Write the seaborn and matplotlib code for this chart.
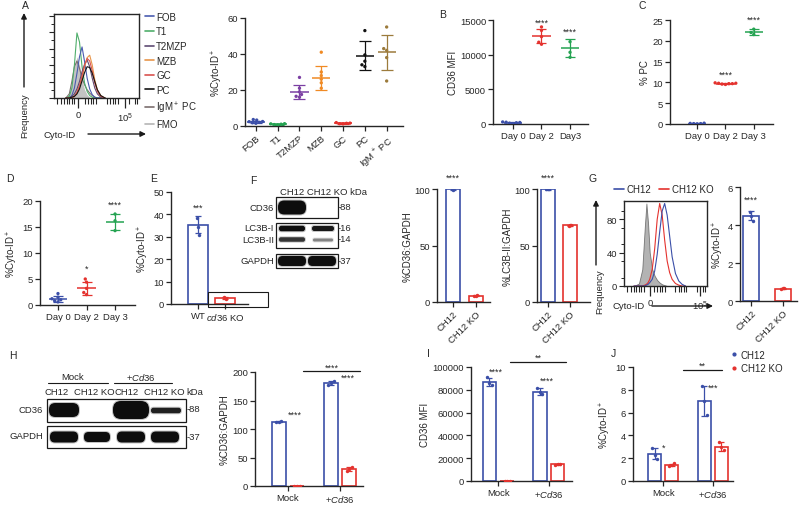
import numpy as np
import pandas as pd
import matplotlib.pyplot as plt
import seaborn as sns
from matplotlib.patches import Rectangle, FancyBboxPatch
from matplotlib.lines import Line2D

sns.set_theme(style="ticks")
plt.rcParams["font.family"] = ["Liberation Sans", "DejaVu Sans"]
plt.rcParams["mathtext.fontset"] = "custom"
plt.rcParams["mathtext.rm"] = "Liberation Sans"
plt.rcParams["mathtext.it"] = "Liberation Sans:italic"
plt.rcParams["axes.facecolor"] = "none"

BLUE = "#3b4fa8"
RED = "#e4322e"
GREEN = "#25a352"

# ---------------- data ----------------
# A: flow histograms, x in axis units (0-100), y in % of axis height
hist_x_a = [14, 18, 21, 24, 27, 30, 33, 36, 39, 42, 45, 48, 51, 55, 60]
hist_fmo_a = [0, 4, 18, 38, 50, 40, 22, 10, 4, 1, 0, 0, 0, 0, 0]
hist_lines_a = {
    "IgM$^+$ PC": [0, 5, 20, 38, 45, 36, 24, 16, 10, 6, 3, 1, 0, 0, 0],
    "T1": [0, 2, 12, 40, 79, 68, 38, 18, 8, 3, 1, 0, 0, 0, 0],
    "FOB": [0, 0, 3, 12, 30, 50, 62, 44, 24, 11, 4, 1, 0, 0, 0],
    "T2MZP": [0, 0, 2, 5, 11, 20, 32, 41, 46, 38, 24, 12, 5, 1, 0],
    "MZB": [0, 0, 0, 2, 6, 13, 24, 38, 49, 52, 40, 22, 10, 3, 0],
    "GC": [0, 0, 0, 2, 7, 15, 27, 40, 48, 45, 33, 18, 8, 2, 0],
    "PC": [0, 0, 1, 2, 5, 11, 21, 31, 38, 37, 30, 20, 10, 3, 0],
}
hist_colors_a = {"FOB": "#4a5cb0", "T1": "#4fae6b", "T2MZP": "#5f4b73",
                 "MZB": "#e8964c", "GC": "#d9534f", "PC": "#141414",
                 "IgM$^+$ PC": "#7c6e6e", "FMO": "#b5b5b5"}
legend_a = ["FOB", "T1", "T2MZP", "MZB", "GC", "PC", "IgM$^+$ PC", "FMO"]

# A: %Cyto-ID+ per subset
cats_a = ["FOB", "T1", "T2MZP", "MZB", "GC", "PC", "IgM+ PC"]
labels_a = ["FOB", "T1", "T2MZP", "MZB", "GC", "PC", "IgM$^+$ PC"]
pts_a = [[1.5, 2.5, 3.3, 1.8, 2.0, 2.4, 3.6], [0.6, 1.0, 1.3, 0.8, 1.2],
         [27, 21, 19, 17.5, 16.5, 16], [41, 28, 30, 24, 21, 26],
         [1.2, 1.6, 1.9, 1.3, 1.5], [53, 39.5, 36, 33, 34],
         [55, 43, 42, 38, 25]]
mean_a = [2.2, 1.0, 19, 26.7, 1.5, 39, 41]
sd_a = [0.8, 0.3, 3.8, 6.5, 0.3, 8, 9.7]
col_a = [BLUE, GREEN, "#7b3fa3", "#f08a24", RED, "#111111", "#9c7b3c"]

# B: CD36 MFI
days_b = ["Day 0", "Day 2", "Day3"]
pts_b = [[60, 120, 180, 220, 260, 300], [14000, 13500, 12600, 11800, 11500],
         [11870, 10340, 9620]]
mean_b = [190, 12650, 10960]
sd_b = [90, 1000, 1230]
stars_b = [None, (14100, "****"), (12700, "****")]

# C: % PC
days_c = ["Day 0", "Day 2", "Day 3"]
pts_c = [[0.05, 0.1, 0.15, 0.1, 0.2], [9.5, 9.6, 9.7, 9.8, 9.8, 9.9, 9.7],
         [22.8, 22.0, 21.5]]
mean_c = [0.12, 9.72, 22.1]
sd_c = [0.05, 0.15, 0.7]
stars_c = [None, (10.8, "****"), (24.0, "****")]

# D: %Cyto-ID+ over days
days_d = ["Day 0", "Day 2", "Day 3"]
pts_d = [[2.2, 1.5, 1.0, 0.8, 0.6, 1.2], [5.0, 4.4, 3.2, 2.4, 2.0],
         [17.5, 16.2, 14.3]]
mean_d = [1.2, 3.2, 16.0]
sd_d = [0.6, 1.2, 1.5]
stars_d = [None, (6.3, "*"), (18.6, "****")]

# E: WT vs cd36 KO
cats_e = ["WT", "$\\mathit{cd36}$ KO"]
pts_e = [[38.5, 34.5, 31.0], [3.3, 2.6, 2.4]]
mean_e = [35.3, 2.8]
sd_e = [3.8, 0.5]

# F: blot quantification
cells = ["CH12", "CH12 KO"]
pts_f1 = [[100, 99.5, 100.5], [5.0, 5.6, 6.0]]
mean_f1 = [100, 5.5]
sd_f1 = [0.8, 0.6]
pts_f2 = [[100, 99.6, 100.3], [67.5, 68.0, 68.4]]
mean_f2 = [100, 68]
sd_f2 = [0.5, 0.5]

# G: histogram (x in axis units 0-100) and %Cyto-ID+
hist_x_g = [12, 18, 22, 25, 27, 29, 31, 34, 37, 40, 43, 46, 49, 52, 55, 58, 62, 66, 70, 74]
hist_fmo_g = [0, 3, 20, 70, 99, 75, 40, 20, 12, 7, 4, 2, 1, 0, 0, 0, 0, 0, 0, 0]
hist_ko_g = [0, 0, 0, 1, 2, 4, 8, 20, 45, 80, 99, 85, 55, 30, 16, 8, 3, 1, 0, 0]
hist_wt_g = [0, 0, 0, 0, 1, 2, 4, 8, 18, 38, 65, 90, 99, 85, 60, 35, 15, 6, 2, 0]
pts_g = [[4.7, 4.45, 4.2], [0.62, 0.66, 0.68]]
mean_g = [4.5, 0.65]
sd_g = [0.25, 0.04]

# H-J: Mock vs +Cd36 (order: Mock CH12, Mock KO, +Cd36 CH12, +Cd36 KO)
groups = ["Mock", "+Cd36"]
group_labels = ["Mock", "+$\\mathit{Cd36}$"]
mean_h = [113, 0.5, 181, 30]
sd_h = [1.0, 0.3, 3.0, 3.0]
pts_h = [[112, 113, 114], [0.3, 0.5, 0.8], [178, 181, 184], [27, 30, 33]]
mean_i = [87000, 150, 78500, 14500]
sd_i = [3500, 80, 2800, 500]
pts_i = [[91000, 86000, 84500], [100, 150, 200], [81500, 78000, 76500], [14000, 14500, 15000]]
mean_j = [2.4, 1.4, 7.0, 3.0]
sd_j = [0.5, 0.12, 1.3, 0.4]
pts_j = [[2.9, 2.3, 1.95], [1.3, 1.4, 1.55], [8.3, 7.0, 5.8], [3.4, 3.0, 2.7]]

# ---------------- layout helpers ----------------
W, H = 800, 510
fig = plt.figure(figsize=(8, 5.1), dpi=100)


def px_ax(x0, y0, x1, y1):
    return fig.add_axes([x0 / W, 1 - y1 / H, (x1 - x0) / W, (y1 - y0) / H])


def style(ax, ylim, yticks, ylabel, xlim, xlabels, rot=0):
    ax.set_ylim(*ylim)
    ax.set_yticks(yticks)
    ax.set_xlim(*xlim)
    ax.set_xticks(range(len(xlabels)))
    if rot:
        ax.set_xticklabels(xlabels, rotation=rot, ha="right", rotation_mode="anchor")
    else:
        ax.set_xticklabels(xlabels)
    sns.despine(ax=ax)
    for s in ax.spines.values():
        s.set_linewidth(1)
    ax.tick_params(labelsize=6.8, length=3.5, width=0.9, pad=1.5)
    ax.set_xlabel("")
    ax.set_ylabel(ylabel, fontsize=7, labelpad=1.5)


def dot_panel(ax, cats, pts, means, sds, colors, half=0.32, cap=3.5):
    df = pd.DataFrame({"cat": np.repeat(cats, [len(p) for p in pts]),
                       "val": np.concatenate(pts)})
    sns.swarmplot(data=df, x="cat", y="val", hue="cat", order=cats, hue_order=cats,
                  palette=colors, size=2.4, ax=ax, legend=False, zorder=3)
    for i, (m, s, c) in enumerate(zip(means, sds, colors)):
        ax.errorbar(i, m, yerr=s, color=c, capsize=cap, lw=0.9, capthick=0.9)
        ax.hlines(m, i - half, i + half, color=c, lw=1.1)


def bar_points(ax, pts, means, sds, colors):
    centers = sorted(p.get_x() + p.get_width() / 2 for p in ax.patches)
    for cx, p, m, s, c in zip(centers, pts, means, sds, colors):
        ax.errorbar(cx, m, yerr=s, color=c, capsize=2.2, lw=0.9, capthick=0.9, zorder=4)
        sns.scatterplot(x=[cx - 0.05, cx, cx + 0.05], y=p, color=c, s=6,
                        linewidth=0, ax=ax, legend=False, zorder=5)
    return centers


def single_bars(ax, names, pts, means, sds, width):
    sns.barplot(x=names, y=means, hue=names, palette=[BLUE, RED], fill=False,
                width=width, errorbar=None, linewidth=1.2, ax=ax, legend=False)
    return bar_points(ax, pts, means, sds, [BLUE, RED])


def grouped_bars(ax, pts, means, sds):
    df = pd.DataFrame({"group": np.repeat(groups, 2), "cell": cells * 2, "val": means})
    sns.barplot(data=df, x="group", y="val", hue="cell", hue_order=cells,
                palette=[BLUE, RED], fill=False, width=0.7, gap=0.25,
                errorbar=None, linewidth=1.2, ax=ax, legend=False)
    return bar_points(ax, pts, means, sds, [BLUE, RED, BLUE, RED])


def stars(ax, x, y, s):
    ax.text(x, y, s, ha="center", va="bottom", fontsize=6.5, clip_on=False)


def bracket(ax, x0, x1, y, s):
    ax.plot([x0, x1], [y, y], color="k", lw=0.9, clip_on=False)
    ax.text((x0 + x1) / 2, y, s, ha="center", va="bottom", fontsize=6.5)


def flow_box(ax, lab_pos):
    ax.set_xlim(0, 100)
    ax.set_ylim(0, 102)
    for s in ax.spines.values():
        s.set_visible(True)
        s.set_linewidth(1)
    ax.set_xticks(lab_pos)
    ax.set_xticklabels(["0", "10$^5$"])
    ax.set_xticks([4, 8, 12, 15, 18, 21, 24, 36, 40, 43, 46, 49, 62, 66, 69, 72, 75,
                   88, 95, 98], minor=True)
    ax.tick_params(axis="x", which="major", length=7, width=0.9, labelsize=6.8, pad=2)
    ax.tick_params(axis="x", which="minor", length=4, width=0.8)
    ax.set_yticks(range(0, 101, 20))
    ax.set_yticks(range(10, 100, 20), minor=True)
    ax.tick_params(axis="y", which="major", length=3.5, width=0.8, labelsize=6.8, pad=1.5)
    ax.tick_params(axis="y", which="minor", length=2, width=0.7)
    ax.set_xlabel("")
    ax.set_ylabel("")


# ---------------- A ----------------
axAh = px_ax(54, 15, 139, 99)
axAh.fill_between(hist_x_a, hist_fmo_a, color=hist_colors_a["FMO"], alpha=0.8, lw=0)
for name, ys in hist_lines_a.items():
    sns.lineplot(x=hist_x_a, y=ys, color=hist_colors_a[name], lw=0.8, ax=axAh)
flow_box(axAh, [28.2, 83.5])
axAh.set_yticklabels([])
handles = [Line2D([0], [0], color=hist_colors_a[n], lw=1.2) for n in legend_a]
fig.legend(handles, legend_a, loc="upper left", bbox_to_anchor=(141 / W, 1 - 9 / H),
           fontsize=7, handlelength=0.9, handletextpad=0.25, labelspacing=0.47,
           frameon=False, borderaxespad=0)

axA = px_ax(245, 19, 403, 127)
dot_panel(axA, cats_a, pts_a, mean_a, sd_a, col_a, half=0.42, cap=4)
style(axA, (0, 60), [0, 20, 40, 60], "%Cyto-ID$^+$", (-0.5, 6.75), labels_a, rot=40)

# ---------------- B ----------------
axB = px_ax(493, 21, 588, 125)
dot_panel(axB, days_b, pts_b, mean_b, sd_b, [BLUE, RED, GREEN])
style(axB, (0, 15000), [0, 5000, 10000, 15000], "CD36 MFI", (-0.7, 2.63), days_b)
for i, st in enumerate(stars_b):
    if st:
        stars(axB, i, *st)

# ---------------- C ----------------
axC = px_ax(670, 21, 773, 125)
dot_panel(axC, days_c, pts_c, mean_c, sd_c, [BLUE, RED, GREEN])
style(axC, (0, 25), [0, 5, 10, 15, 20, 25], "% PC", (-0.96, 2.68), days_c)
for i, st in enumerate(stars_c):
    if st:
        stars(axC, i, *st)

# ---------------- D ----------------
axD = px_ax(40, 202, 135, 306)
dot_panel(axD, days_d, pts_d, mean_d, sd_d, [BLUE, RED, GREEN])
style(axD, (0, 20), [0, 5, 10, 15, 20], "%Cyto-ID$^+$", (-0.63, 2.7), days_d)
for i, st in enumerate(stars_d):
    if st:
        stars(axD, i, *st)

# ---------------- E ----------------
axE = px_ax(171, 193, 248, 305)
single_bars(axE, ["WT", "KO"], pts_e, mean_e, sd_e, 0.75)
style(axE, (0, 50), [0, 10, 20, 30, 40, 50], "%Cyto-ID$^+$", (-1.0, 1.85), cats_e)
stars(axE, 0, 41, "***")

# ---------------- F quantification ----------------
axF1 = px_ax(437, 190, 490, 303)
single_bars(axF1, cells, pts_f1, mean_f1, sd_f1, 0.62)
style(axF1, (0, 100), [0, 50, 100], "%CD36:GAPDH", (-0.71, 1.64), cells, rot=45)
stars(axF1, 0, 106, "****")

axF2 = px_ax(537, 190, 590, 303)
single_bars(axF2, cells, pts_f2, mean_f2, sd_f2, 0.62)
style(axF2, (0, 100), [0, 50, 100], "%LC3B-II:GAPDH", (-0.47, 1.88), cells, rot=45)
stars(axF2, 0, 106, "****")

# ---------------- G ----------------
axGh = px_ax(624, 202, 707, 287)
axGh.fill_between(hist_x_g, hist_fmo_g, color="#9a9a9a", alpha=0.75, lw=0.6,
                  edgecolor="#555555")
sns.lineplot(x=hist_x_g, y=hist_ko_g, color=RED, lw=0.8, ax=axGh)
sns.lineplot(x=hist_x_g, y=hist_wt_g, color=BLUE, lw=0.8, ax=axGh)
flow_box(axGh, [31.3, 91.6])
axGh.set_yticks([0, 40, 80])
axGh.set_yticklabels(["0", "40", "80"])
fig.legend([Line2D([0], [0], color=BLUE, lw=1.2), Line2D([0], [0], color=RED, lw=1.2)],
           cells, loc="center", bbox_to_anchor=(664 / W, 1 - 190 / H), ncol=2,
           fontsize=7, handlelength=1.0, handletextpad=0.3, columnspacing=0.8,
           frameon=False, borderaxespad=0)

axG = px_ax(740, 188, 797, 302)
single_bars(axG, cells, pts_g, mean_g, sd_g, 0.5)
style(axG, (0, 6), [0, 2, 4, 6], "%Cyto-ID$^+$", (-0.36, 1.45), cells, rot=45)
stars(axG, 0, 5.1, "****")

# ---------------- H ----------------
axH = px_ax(255, 373, 363, 487)
cH = grouped_bars(axH, pts_h, mean_h, sd_h)
style(axH, (0, 200), [0, 50, 100, 150, 200], "%CD36:GAPDH", (-0.63, 1.44), group_labels)
stars(axH, cH[1] - 0.04, 118, "****")
stars(axH, cH[3] - 0.02, 183, "****")
bracket(axH, 0.29, 1.38, 201, "****")

# ---------------- I ----------------
axI = px_ax(471, 368, 572, 482)
cI = grouped_bars(axI, pts_i, mean_i, sd_i)
style(axI, (0, 100000), range(0, 100001, 20000), "CD36 MFI", (-0.54, 1.46), group_labels)
stars(axI, -0.05, 92500, "****")
stars(axI, 0.96, 84500, "****")
bracket(axI, 0.23, 1.34, 104500, "**")

# ---------------- J ----------------
axJ = px_ax(633, 368, 733, 482)
cJ = grouped_bars(axJ, pts_j, mean_j, sd_j)
style(axJ, (0, 10), [0, 2, 4, 6, 8, 10], "%Cyto-ID$^+$", (-0.61, 1.41), group_labels)
stars(axJ, 0.0, 2.6, "*")
stars(axJ, 1.0, 7.8, "***")
bracket(axJ, 0.4, 1.19, 9.75, "**")
fig.legend([Line2D([0], [0], marker="o", ls="", color=BLUE, ms=2),
            Line2D([0], [0], marker="o", ls="", color=RED, ms=2)],
           cells, loc="upper left", bbox_to_anchor=(727 / W, 1 - 347 / H),
           fontsize=7, handlelength=0.6, handletextpad=0.4, labelspacing=0.35,
           frameon=False, borderaxespad=0)

# ---------------- overlay: panel letters, arrows, blots ----------------
ov = fig.add_axes([0, 0, 1, 1])
ov.set_xlim(0, W)
ov.set_ylim(H, 0)
ov.axis("off")

for letter, (x, y) in {"A": (25, 6), "B": (443, 15), "C": (642, 6), "D": (10, 179),
                       "E": (154, 179), "F": (253, 181), "G": (593, 179),
                       "H": (13, 356), "I": (428, 354), "J": (613, 354)}.items():
    ov.text(x, y, letter, fontsize=7.5, ha="center", va="center")

arrow = dict(arrowstyle="-|>", color="k", lw=1.0, mutation_scale=8, shrinkA=0, shrinkB=0)
ov.annotate("", xy=(24, 14), xytext=(24, 88), arrowprops=arrow)
ov.text(25, 116, "Frequency", rotation=90, fontsize=6.8, ha="center", va="center")
ov.text(60, 136, "Cyto-ID", fontsize=6.8, ha="center", va="center")
ov.annotate("", xy=(146, 135), xytext=(88, 135), arrowprops=arrow)

ov.annotate("", xy=(596, 201), xytext=(596, 266), arrowprops=arrow)
ov.text(600, 292, "Frequency", rotation=90, fontsize=6.8, ha="center", va="center")
ov.text(629, 307, "Cyto-ID", fontsize=6.8, ha="center", va="center")
ov.annotate("", xy=(713, 307), xytext=(652, 307), arrowprops=arrow)

# E: stray box from the original figure
ov.add_patch(Rectangle((208, 293), 60, 15, fill=False, ec="k", lw=0.8))


def blot_box(x0, y0, x1, y1, bands):
    ov.add_patch(Rectangle((x0, y0), x1 - x0, y1 - y0, fill=False, ec="k", lw=0.9))
    for cx, cy, w, h, a in bands:
        r = min(h, w) * 0.45
        ov.add_patch(FancyBboxPatch((cx - w / 2 - 1, cy - h / 2 - 1), w + 2, h + 2,
                                    boxstyle=f"round,pad=0,rounding_size={r + 1}",
                                    color="#555555", alpha=a * 0.35, lw=0))
        ov.add_patch(FancyBboxPatch((cx - w / 2, cy - h / 2), w, h,
                                    boxstyle=f"round,pad=0,rounding_size={r}",
                                    color="#0d0d0d", alpha=a, lw=0))


# F blot
ov.text(280, 193, "CH12 CH12 KO kDa", fontsize=6.8, ha="left", va="center")
blot_box(276, 198, 338, 219, [(292, 208.5, 28, 14, 1.0)])
blot_box(276, 224, 338, 249, [(292, 229.5, 26, 5.5, 1.0), (323, 229.5, 22, 5, 0.95),
                              (292, 240.5, 26, 4.5, 0.8), (323, 241, 20, 3, 0.45)])
blot_box(276, 255, 338, 269, [(292, 262, 28, 10, 1.0), (322, 262, 28, 10, 1.0)])
for txt, y in [("CD36", 209), ("LC3B-I", 229), ("LC3B-II", 241), ("GAPDH", 262)]:
    ov.text(274, y, txt, fontsize=6.8, ha="right", va="center")
for txt, y in [("-88", 208), ("-16", 229), ("-14", 240), ("-37", 262)]:
    ov.text(338, y, txt, fontsize=6.8, ha="left", va="center")

# H blot
ov.text(73, 378, "Mock", fontsize=6.8, ha="center", va="center")
ov.plot([48, 108], [384, 384], color="k", lw=0.8)
ov.text(141, 378, "+$\\mathit{Cd36}$", fontsize=6.8, ha="center", va="center")
ov.plot([114, 172], [384, 384], color="k", lw=0.8)
for txt, x in [("CH12", 57), ("CH12 KO", 94), ("CH12", 127), ("CH12 KO", 164), ("kDa", 195)]:
    ov.text(x, 393, txt, fontsize=6.8, ha="center", va="center")
blot_box(47, 400, 186, 423, [(64, 411, 30, 14, 1.0), (131, 411, 36, 18, 1.0),
                             (166, 411.5, 30, 5.5, 0.9)])
blot_box(47, 427, 186, 449, [(64, 438, 28, 11, 1.0), (97, 438, 26, 10, 1.0),
                             (131, 438, 28, 11, 1.0), (165, 438, 28, 11, 1.0)])
ov.text(43, 411, "CD36", fontsize=6.8, ha="right", va="center")
ov.text(43, 437, "GAPDH", fontsize=6.8, ha="right", va="center")
ov.text(187, 410, "-88", fontsize=6.8, ha="left", va="center")
ov.text(187, 438, "-37", fontsize=6.8, ha="left", va="center")

fig.savefig("out.png", dpi=100)
